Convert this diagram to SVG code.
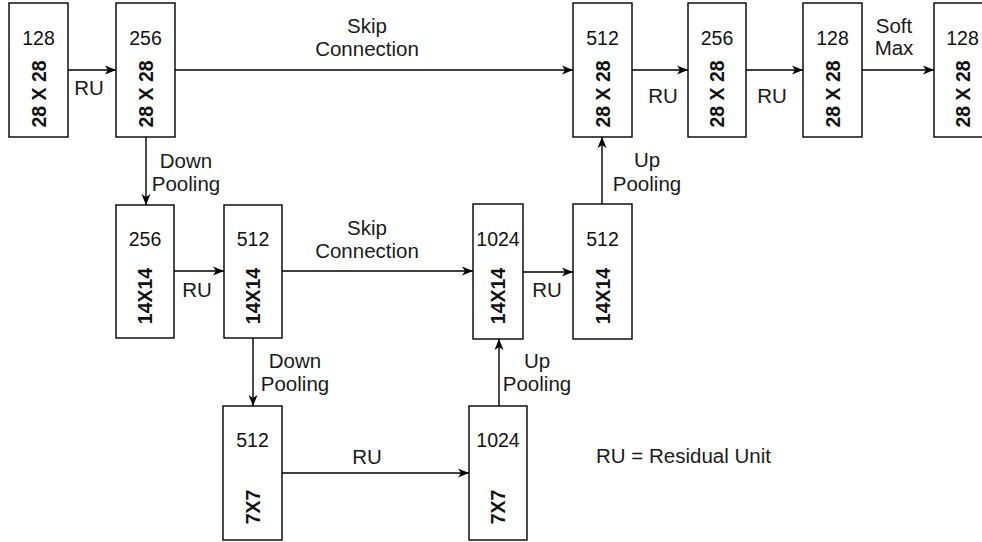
<svg xmlns="http://www.w3.org/2000/svg" width="982" height="542" viewBox="0 0 982 542">
<style>
  .box { fill: #ffffff; stroke: #000000; stroke-width: 1.4; }
  .num { font-family: "Liberation Sans", Arial, sans-serif; font-size: 19.5px; fill: #111; text-anchor: middle; }
  .dim { font-family: "Liberation Sans", Arial, sans-serif; font-size: 19.5px; font-weight: bold; fill: #111; text-anchor: middle; }
  .lbl { font-family: "Liberation Sans", Arial, sans-serif; font-size: 20.5px; fill: #1a1a1a; text-anchor: middle; }
  .edge { fill: none; stroke: #000000; stroke-width: 1.4; marker-end: url(#arr); }
</style>
<defs>
  <marker id="arr" markerUnits="userSpaceOnUse" markerWidth="12" markerHeight="10" refX="11" refY="5" orient="auto">
    <path d="M0,0.5 L11,5 L0,9.5 L3,5 Z" fill="#000000"/>
  </marker>
</defs>
<rect width="982" height="542" fill="#ffffff"/>

<g id="connectors">
  <line class="edge" x1="68" y1="70" x2="116" y2="70"/>
  <line class="edge" x1="175" y1="70" x2="573" y2="70"/>
  <line class="edge" x1="632" y1="70" x2="688" y2="70"/>
  <line class="edge" x1="746" y1="70" x2="803" y2="70"/>
  <line class="edge" x1="862" y1="70" x2="934" y2="70"/>
  <line class="edge" x1="174" y1="271" x2="224" y2="271"/>
  <line class="edge" x1="282" y1="271" x2="473" y2="271"/>
  <line class="edge" x1="523" y1="272" x2="573" y2="272"/>
  <line class="edge" x1="282" y1="473" x2="469" y2="473"/>
  <line class="edge" x1="146" y1="137" x2="146" y2="205"/>
  <line class="edge" x1="253" y1="338" x2="253" y2="406"/>
  <line class="edge" x1="499" y1="406" x2="499" y2="339"/>
  <line class="edge" x1="602" y1="204" x2="602" y2="137"/>
  <text class="lbl" x="89" y="95">RU</text>
  <text class="lbl" x="367" y="33">Skip</text>
  <text class="lbl" x="367" y="56">Connection</text>
  <text class="lbl" x="663" y="103">RU</text>
  <text class="lbl" x="772" y="103">RU</text>
  <text class="lbl" x="894" y="33">Soft</text>
  <text class="lbl" x="894" y="55">Max</text>
  <text class="lbl" x="186" y="168">Down</text>
  <text class="lbl" x="186" y="191">Pooling</text>
  <text class="lbl" x="647" y="167">Up</text>
  <text class="lbl" x="647" y="191">Pooling</text>
  <text class="lbl" x="197" y="297">RU</text>
  <text class="lbl" x="367" y="235">Skip</text>
  <text class="lbl" x="367" y="258">Connection</text>
  <text class="lbl" x="547" y="297">RU</text>
  <text class="lbl" x="295" y="368">Down</text>
  <text class="lbl" x="295" y="391">Pooling</text>
  <text class="lbl" x="537" y="368">Up</text>
  <text class="lbl" x="537" y="391">Pooling</text>
  <text class="lbl" x="367" y="464">RU</text>
</g>

<g id="n1"><rect class="box" x="9" y="3" width="59" height="134"/><text class="num" x="38.5" y="45">128</text><text class="dim" transform="translate(45.5,94) rotate(-90)">28 X 28</text></g>
<g id="n2"><rect class="box" x="116" y="3" width="59" height="134"/><text class="num" x="145.5" y="45">256</text><text class="dim" transform="translate(152.5,94) rotate(-90)">28 X 28</text></g>
<g id="n9"><rect class="box" x="573" y="3" width="59" height="134"/><text class="num" x="602.5" y="45">512</text><text class="dim" transform="translate(609.5,94) rotate(-90)">28 X 28</text></g>
<g id="n10"><rect class="box" x="688" y="3" width="58" height="134"/><text class="num" x="717" y="45">256</text><text class="dim" transform="translate(724,94) rotate(-90)">28 X 28</text></g>
<g id="n11"><rect class="box" x="803" y="3" width="59" height="134"/><text class="num" x="832.5" y="45">128</text><text class="dim" transform="translate(839.5,94) rotate(-90)">28 X 28</text></g>
<g id="n12"><rect class="box" x="934" y="3" width="59" height="134"/><text class="num" x="962.5" y="45">128</text><text class="dim" transform="translate(969.5,94) rotate(-90)">28 X 28</text></g>

<g id="n3"><rect class="box" x="116" y="205" width="58" height="133"/><text class="num" x="145" y="246">256</text><text class="dim" transform="translate(152,296) rotate(-90)">14X14</text></g>
<g id="n4"><rect class="box" x="224" y="205" width="58" height="133"/><text class="num" x="253" y="246">512</text><text class="dim" transform="translate(260,296) rotate(-90)">14X14</text></g>
<g id="n7"><rect class="box" x="473" y="204" width="50" height="135"/><text class="num" x="498" y="246">1024</text><text class="dim" transform="translate(505,296) rotate(-90)">14X14</text></g>
<g id="n8"><rect class="box" x="573" y="204" width="59" height="135"/><text class="num" x="602.5" y="246">512</text><text class="dim" transform="translate(609.5,296) rotate(-90)">14X14</text></g>

<g id="n5"><rect class="box" x="223" y="406" width="59" height="134"/><text class="num" x="252.5" y="447">512</text><text class="dim" transform="translate(259.5,507) rotate(-90)">7X7</text></g>
<g id="n6"><rect class="box" x="469" y="406" width="58" height="134"/><text class="num" x="498" y="447">1024</text><text class="dim" transform="translate(505,507) rotate(-90)">7X7</text></g>

<g id="legend"><text class="lbl" x="596" y="463" style="text-anchor:start">RU = Residual Unit</text></g>
</svg>
